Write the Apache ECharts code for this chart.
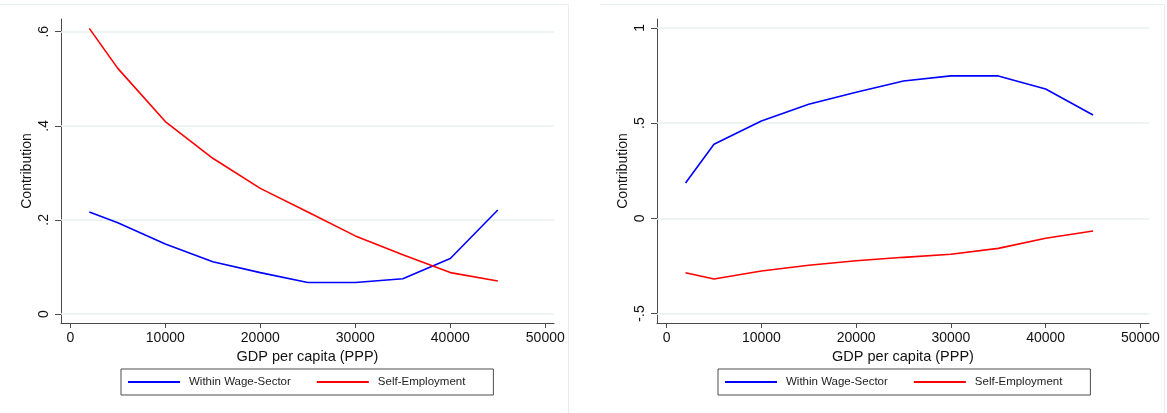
<!DOCTYPE html>
<html>
<head>
<meta charset="utf-8">
<script src="https://cdn.jsdelivr.net/npm/echarts@6/dist/echarts.min.js"></script>
<style>
  html, body { margin: 0; padding: 0; background: #fff; }
  #chart { width: 1167px; height: 413px; }
</style>
</head>
<body>
<div id="chart"></div>
<script>
// GDP per capita (PPP) at which contributions are evaluated
const gdp = [2000, 5000, 10000, 15000, 20000, 25000, 30000, 35000, 40000, 45000];

// Left panel
const leftWage = [0.217, 0.194, 0.149, 0.111, 0.088, 0.067, 0.067, 0.075, 0.118, 0.221];
const leftSelf = [0.607, 0.522, 0.409, 0.331, 0.267, 0.217, 0.166, 0.126, 0.088, 0.070];

// Right panel
const rightWage = [0.185, 0.389, 0.511, 0.599, 0.662, 0.721, 0.748, 0.748, 0.679, 0.543];
const rightSelf = [-0.286, -0.319, -0.277, -0.247, -0.223, -0.205, -0.189, -0.158, -0.105, -0.067];

// Tick values
const xTicks = [0, 10000, 20000, 30000, 40000, 50000];
const leftYTicks = [0, 0.2, 0.4, 0.6];
const rightYTicks = [-0.5, 0, 0.5, 1];

const seriesNames = ['Within Wage-Sector', 'Self-Employment'];
const colors = ['#0000ff', '#ff0000'];

const FONT = 'Liberation Sans';
const axisDark = '#4a4a4a';
const gridColor = '#e8f0f1';
const frameColor = '#e6eef0';

// Stata-style decimal labels: .2, -.5
const fmtY = v => v === 0 ? '0' : String(v).replace('0.', '.');
const fmtX = v => String(v);

function xAxisFor(gridIndex, min, max) {
  return {
    type: 'value', gridIndex, min, max,
    axisLine: { show: true, onZero: false, lineStyle: { color: axisDark, width: 1 } },
    axisTick: { show: true, customValues: xTicks, length: 5, lineStyle: { color: axisDark } },
    axisLabel: { customValues: xTicks, formatter: fmtX, margin: 8, color: '#111', fontFamily: FONT, fontSize: 14 },
    splitLine: { show: false },
    name: 'GDP per capita (PPP)', nameLocation: 'middle', nameGap: 23,
    nameTextStyle: { color: '#111', fontFamily: FONT, fontSize: 14.5 }
  };
}

function yAxisFor(gridIndex, min, max, ticks) {
  return {
    type: 'value', gridIndex, min, max,
    axisLine: { show: true, onZero: false, lineStyle: { color: axisDark, width: 1 } },
    axisTick: { show: true, customValues: ticks, length: 6, lineStyle: { color: axisDark } },
    axisLabel: { customValues: ticks, formatter: fmtY, rotate: 90, margin: 10,
                 color: '#111', fontFamily: FONT, fontSize: 14 },
    splitLine: { show: false },
    name: 'Contribution', nameLocation: 'middle', nameRotate: 90, nameGap: 27,
    nameTextStyle: { color: '#111', fontFamily: FONT, fontSize: 14 }
  };
}

// Horizontal gridlines at the y ticks, kept beneath the data lines
function gridSeries(xi, yi, ticks) {
  return {
    type: 'line', xAxisIndex: xi, yAxisIndex: yi, data: [],
    z: 1, silent: true, animation: false,
    markLine: {
      silent: true, symbol: 'none', animation: false, z: 1,
      label: { show: false },
      lineStyle: { color: gridColor, width: 1.6, type: 'solid' },
      emphasis: { disabled: true },
      data: ticks.map(v => ({ yAxis: v }))
    }
  };
}

function lineSeries(name, color, xi, yi, values) {
  return {
    name, type: 'line', xAxisIndex: xi, yAxisIndex: yi, z: 5,
    data: gdp.map((g, i) => [g, values[i]]),
    showSymbol: false, symbol: 'none', smooth: false,
    lineStyle: { color, width: 1.6 }, itemStyle: { color },
    emphasis: { disabled: true }, animation: false
  };
}

function legendFor(left) {
  return {
    left, top: 369,
    orient: 'horizontal',
    padding: [6, 28, 6, 7],
    itemGap: 26, itemWidth: 52, itemHeight: 2,
    icon: 'rect',
    borderColor: '#4d4d4d', borderWidth: 1,
    selectedMode: false,
    textStyle: { color: '#222', fontFamily: FONT, fontSize: 11.5, lineHeight: 14, padding: [0, 0, 0, 4] },
    data: [
      { name: seriesNames[0], textStyle: { width: 101 } },
      { name: seriesNames[1], textStyle: { width: 85 } }
    ]
  };
}

const chart = echarts.init(document.getElementById('chart'), null, { renderer: 'canvas' });

const option = {
  backgroundColor: '#fff',
  animation: false,
  grid: [
    { left: 61, top: 19, width: 493, height: 304 },
    { left: 657, top: 19, width: 492, height: 304 }
  ],
  xAxis: [xAxisFor(0, -979, 50916), xAxisFor(1, -1012, 50906)],
  yAxis: [yAxisFor(0, -0.0191, 0.627, leftYTicks), yAxisFor(1, -0.550, 1.047, rightYTicks)],
  legend: [legendFor(121), legendFor(718)],
  series: [
    gridSeries(0, 0, leftYTicks),
    gridSeries(1, 1, rightYTicks),
    lineSeries(seriesNames[0], colors[0], 0, 0, leftWage),
    lineSeries(seriesNames[1], colors[1], 0, 0, leftSelf),
    lineSeries(seriesNames[0], colors[0], 1, 1, rightWage),
    lineSeries(seriesNames[1], colors[1], 1, 1, rightSelf)
  ],
  graphic: [
    // panel frames
    { type: 'line', silent: true, shape: { x1: 0, y1: 4.5, x2: 568.5, y2: 4.5 }, style: { stroke: frameColor, lineWidth: 1 } },
    { type: 'line', silent: true, shape: { x1: 568.5, y1: 4.5, x2: 568.5, y2: 413 }, style: { stroke: frameColor, lineWidth: 1 } },
    { type: 'line', silent: true, shape: { x1: 600, y1: 4.5, x2: 1164.5, y2: 4.5 }, style: { stroke: frameColor, lineWidth: 1 } },
    { type: 'line', silent: true, shape: { x1: 1164.5, y1: 4.5, x2: 1164.5, y2: 413 }, style: { stroke: frameColor, lineWidth: 1 } }
  ]
};

chart.setOption(option);
</script>
</body>
</html>
